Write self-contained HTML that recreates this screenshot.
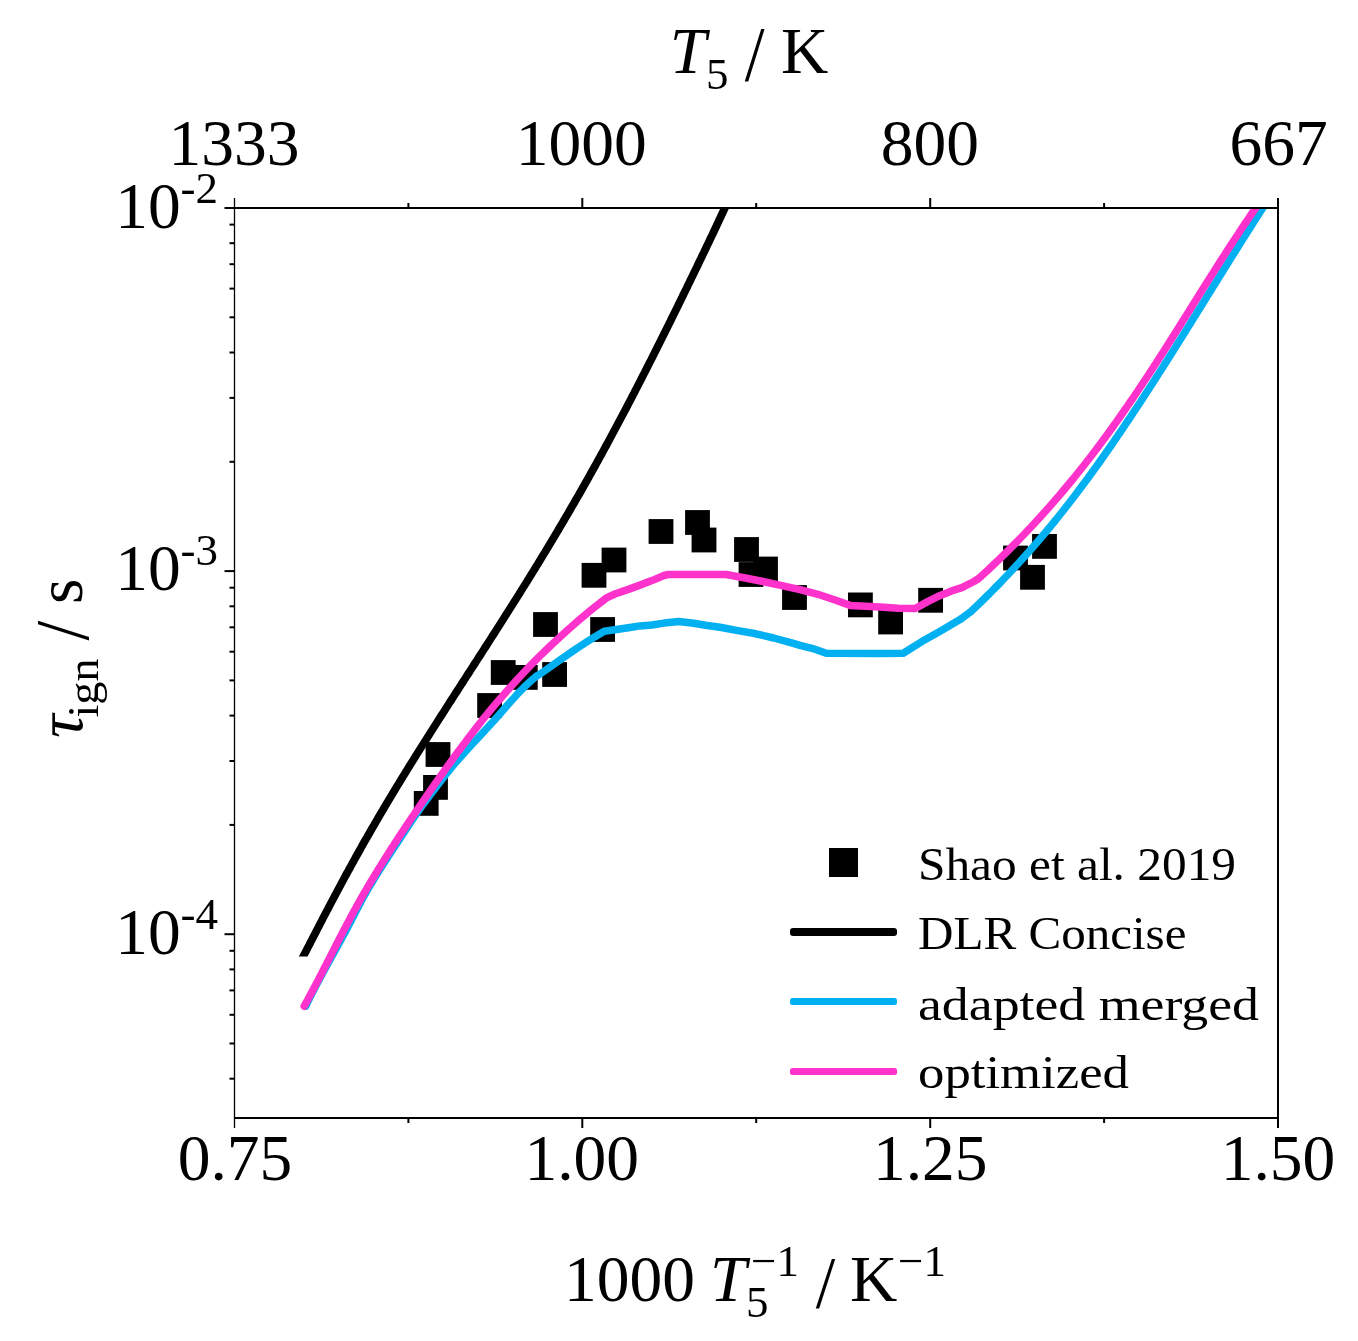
<!DOCTYPE html>
<html><head><meta charset="utf-8"><style>
html,body{margin:0;padding:0;background:#fff;}
svg{display:block;will-change:transform;}
text{font-family:"Liberation Serif",serif;fill:#000;}
</style></head><body>
<svg width="1358" height="1341" viewBox="0 0 1358 1341">
<defs><clipPath id="pc"><rect x="234.5" y="208.0" width="1043.5" height="910.0"/></clipPath></defs>
<g clip-path="url(#pc)">
<rect x="413.8" y="791.0" width="24.8" height="24.8" fill="#000"/>
<rect x="423.1" y="775.0" width="24.8" height="24.8" fill="#000"/>
<rect x="425.6" y="742.1" width="24.8" height="24.8" fill="#000"/>
<rect x="477.2" y="693.1" width="24.8" height="24.8" fill="#000"/>
<rect x="490.8" y="660.1" width="24.8" height="24.8" fill="#000"/>
<rect x="512.9" y="665.0" width="24.8" height="24.8" fill="#000"/>
<rect x="542.2" y="662.1" width="24.8" height="24.8" fill="#000"/>
<rect x="533.1" y="612.1" width="24.8" height="24.8" fill="#000"/>
<rect x="581.6" y="562.9" width="24.8" height="24.8" fill="#000"/>
<rect x="590.2" y="617.1" width="24.8" height="24.8" fill="#000"/>
<rect x="601.6" y="547.6" width="24.8" height="24.8" fill="#000"/>
<rect x="648.6" y="519.1" width="24.8" height="24.8" fill="#000"/>
<rect x="685.1" y="510.1" width="24.8" height="24.8" fill="#000"/>
<rect x="691.6" y="527.6" width="24.8" height="24.8" fill="#000"/>
<rect x="734.1" y="537.1" width="24.8" height="24.8" fill="#000"/>
<rect x="738.6" y="562.1" width="24.8" height="24.8" fill="#000"/>
<rect x="753.1" y="556.6" width="24.8" height="24.8" fill="#000"/>
<rect x="782.1" y="585.1" width="24.8" height="24.8" fill="#000"/>
<rect x="848.0" y="592.5" width="24.8" height="24.8" fill="#000"/>
<rect x="878.2" y="609.6" width="24.8" height="24.8" fill="#000"/>
<rect x="918.2" y="587.9" width="24.8" height="24.8" fill="#000"/>
<rect x="1003.1" y="545.6" width="24.8" height="24.8" fill="#000"/>
<rect x="1032.1" y="534.0" width="24.8" height="24.8" fill="#000"/>
<rect x="1020.1" y="564.9" width="24.8" height="24.8" fill="#000"/>
<clipPath id="bc"><rect x="200" y="200" width="600" height="756.6"/></clipPath>
<path clip-path="url(#bc)" d="M300.4,962.0 L304.5,954.0 L306.1,951.0 L307.6,948.0 L309.2,945.0 L310.7,942.0 L312.3,939.0 L313.8,936.0 L315.4,933.0 L316.9,930.0 L318.5,927.0 L320.0,924.0 L321.6,921.0 L323.1,918.0 L324.7,915.0 L326.3,912.0 L327.9,909.0 L329.4,906.0 L331.0,903.0 L332.6,900.0 L334.2,897.0 L335.8,894.0 L337.4,891.0 L339.0,888.0 L340.6,885.0 L342.2,882.0 L343.8,879.0 L345.4,876.0 L347.1,873.0 L348.7,870.0 L350.4,867.0 L352.0,864.0 L353.7,861.0 L355.3,858.0 L357.0,855.0 L358.7,852.0 L360.4,849.0 L362.0,846.0 L363.7,843.0 L365.4,840.0 L367.2,837.0 L368.9,834.0 L370.6,831.0 L372.3,828.0 L374.1,825.0 L375.8,822.0 L377.6,819.0 L379.3,816.0 L381.1,813.0 L382.9,810.0 L384.6,807.0 L386.4,804.0 L388.2,801.0 L390.0,798.0 L391.8,795.0 L393.6,792.0 L395.4,789.0 L397.2,786.0 L399.1,783.0 L400.9,780.0 L402.7,777.0 L404.6,774.0 L406.4,771.0 L408.3,768.0 L410.1,765.0 L412.0,762.0 L413.9,759.0 L415.7,756.0 L417.6,753.0 L419.5,750.0 L421.4,747.0 L423.3,744.0 L425.2,741.0 L427.1,738.0 L429.0,735.0 L430.9,732.0 L432.8,729.0 L434.7,726.0 L436.6,723.0 L438.5,720.0 L440.4,717.0 L442.4,714.0 L444.3,711.0 L446.2,708.0 L448.1,705.0 L450.0,702.0 L452.0,699.0 L453.9,696.0 L455.8,693.0 L457.8,690.0 L459.7,687.0 L461.6,684.0 L463.6,681.0 L465.5,678.0 L467.4,675.0 L469.4,672.0 L471.3,669.0 L473.2,666.0 L475.2,663.0 L477.1,660.0 L479.0,657.0 L481.0,654.0 L482.9,651.0 L484.8,648.0 L486.8,645.0 L488.7,642.0 L490.6,639.0 L492.5,636.0 L494.5,633.0 L496.4,630.0 L498.3,627.0 L500.2,624.0 L502.1,621.0 L504.0,618.0 L505.9,615.0 L507.8,612.0 L509.7,609.0 L511.6,606.0 L513.5,603.0 L515.4,600.0 L517.3,597.0 L519.2,594.0 L521.0,591.0 L522.9,588.0 L524.8,585.0 L526.7,582.0 L528.5,579.0 L530.4,576.0 L532.2,573.0 L534.1,570.0 L535.9,567.0 L537.8,564.0 L539.6,561.0 L541.4,558.0 L543.2,555.0 L545.1,552.0 L546.9,549.0 L548.7,546.0 L550.5,543.0 L552.3,540.0 L554.1,537.0 L555.9,534.0 L557.7,531.0 L559.4,528.0 L561.2,525.0 L563.0,522.0 L564.7,519.0 L566.5,516.0 L568.3,513.0 L570.0,510.0 L571.7,507.0 L573.5,504.0 L575.2,501.0 L576.9,498.0 L578.7,495.0 L580.4,492.0 L582.1,489.0 L583.8,486.0 L585.5,483.0 L587.2,480.0 L588.9,477.0 L590.5,474.0 L592.2,471.0 L593.9,468.0 L595.6,465.0 L597.2,462.0 L598.9,459.0 L600.5,456.0 L602.2,453.0 L603.8,450.0 L605.4,447.0 L607.1,444.0 L608.7,441.0 L610.3,438.0 L611.9,435.0 L613.5,432.0 L615.1,429.0 L616.7,426.0 L618.3,423.0 L619.9,420.0 L621.5,417.0 L623.1,414.0 L624.7,411.0 L626.3,408.0 L627.8,405.0 L629.4,402.0 L631.0,399.0 L632.5,396.0 L634.1,393.0 L635.6,390.0 L637.2,387.0 L638.7,384.0 L640.3,381.0 L641.8,378.0 L643.3,375.0 L644.9,372.0 L646.4,369.0 L647.9,366.0 L649.4,363.0 L651.0,360.0 L652.5,357.0 L654.0,354.0 L655.5,351.0 L657.0,348.0 L658.5,345.0 L660.0,342.0 L661.5,339.0 L663.0,336.0 L664.5,333.0 L666.0,330.0 L667.5,327.0 L669.0,324.0 L670.5,321.0 L671.9,318.0 L673.4,315.0 L674.9,312.0 L676.4,309.0 L677.9,306.0 L679.3,303.0 L680.8,300.0 L682.3,297.0 L683.7,294.0 L685.2,291.0 L686.7,288.0 L688.1,285.0 L689.6,282.0 L691.0,279.0 L692.5,276.0 L693.9,273.0 L695.4,270.0 L696.9,267.0 L698.3,264.0 L699.7,261.0 L701.2,258.0 L702.6,255.0 L704.1,252.0 L705.5,249.0 L706.9,246.0 L708.4,243.0 L709.8,240.0 L711.2,237.0 L712.7,234.0 L714.1,231.0 L715.5,228.0 L716.9,225.0 L718.3,222.0 L719.7,219.0 L721.1,216.0 L722.5,213.0 L723.9,210.0 L725.3,207.0 L726.7,204.0" fill="none" stroke="#000" stroke-width="7.8" stroke-linejoin="round"/>
<path d="M305.6,1006.2 L307.1,1003.2 L308.5,1000.2 L310.0,997.2 L311.5,994.2 L313.1,991.2 L314.6,988.2 L316.2,985.2 L317.8,982.2 L319.4,979.2 L321.0,976.2 L322.6,973.2 L324.2,970.2 L325.9,967.2 L327.5,964.2 L329.2,961.2 L330.8,958.2 L332.5,955.2 L334.1,952.2 L335.8,949.2 L337.4,946.2 L339.1,943.2 L340.7,940.2 L342.3,937.2 L344.0,934.2 L345.6,931.2 L347.2,928.2 L348.7,925.2 L350.3,922.2 L351.8,919.2 L353.4,916.2 L354.9,913.2 L356.5,910.2 L358.1,907.2 L359.6,904.2 L361.2,901.2 L362.8,898.2 L364.5,895.2 L366.2,892.2 L367.9,889.2 L369.6,886.2 L371.4,883.2 L373.2,880.2 L375.0,877.2 L376.9,874.2 L378.8,871.2 L380.7,868.2 L382.6,865.2 L384.5,862.2 L386.5,859.2 L388.4,856.2 L390.4,853.2 L392.3,850.2 L394.3,847.2 L396.3,844.2 L398.3,841.2 L400.2,838.2 L402.2,835.2 L404.2,832.2 L406.2,829.2 L408.1,826.2 L410.1,823.2 L412.1,820.2 L414.2,817.2 L416.2,814.2 L418.3,811.2 L420.4,808.2 L422.5,805.2 L424.7,802.2 L426.9,799.2 L429.1,796.2 L431.4,793.2 L433.7,790.2 L436.0,787.2 L438.3,784.2 L440.6,781.2 L442.9,778.2 L445.3,775.2 L447.7,772.2 L450.1,769.2 L452.6,766.2 L455.1,763.2 L457.7,760.2 L460.3,757.2 L463.0,754.2 L465.7,751.2 L468.4,748.2 L471.2,745.2 L474.0,742.2 L476.8,739.2 L479.6,736.2 L482.3,733.2 L485.1,730.2 L487.9,727.2 L490.6,724.2 L493.4,721.2 L496.0,718.2 L498.7,715.2 L501.3,712.2 L503.9,709.2 L506.5,706.2 L509.2,703.2 L511.8,700.2 L514.6,697.2 L517.3,694.2 L520.2,691.2 L523.2,688.2 L526.2,685.2 L529.4,682.2 L532.8,679.2 L536.2,676.2 L537.8,675.5 L547.3,669.0 L556.8,662.2 L566.3,655.6 L575.7,649.1 L585.2,642.9 L594.7,636.9 L604.2,631.3 L615.0,629.7 L621.6,628.7 L630.0,627.5 L640.0,625.9 L651.9,625.0 L663.9,623.1 L678.8,621.6 L693.7,623.2 L705.6,625.3 L720.0,627.3 L737.9,630.6 L755.8,633.8 L773.7,638.0 L791.6,642.8 L800.0,645.4 L811.9,648.3 L826.3,653.2 L880.0,653.4 L903.2,653.2 L921.8,641.6 L939.7,631.5 L960.0,619.6 L967.0,614.5 L971.0,611.5 L974.1,608.5 L977.3,605.5 L980.4,602.5 L983.5,599.5 L986.5,596.5 L989.6,593.5 L992.5,590.5 L995.5,587.5 L998.5,584.5 L1001.4,581.5 L1004.2,578.5 L1007.1,575.5 L1009.9,572.5 L1012.7,569.5 L1015.5,566.5 L1018.3,563.5 L1021.0,560.5 L1023.7,557.5 L1026.4,554.5 L1029.1,551.5 L1031.7,548.5 L1034.3,545.5 L1036.9,542.5 L1039.5,539.5 L1042.0,536.5 L1044.6,533.5 L1047.1,530.5 L1049.6,527.5 L1052.0,524.5 L1054.5,521.5 L1056.9,518.5 L1059.3,515.5 L1061.7,512.5 L1064.1,509.5 L1066.4,506.5 L1068.8,503.5 L1071.1,500.5 L1073.4,497.5 L1075.7,494.5 L1077.9,491.5 L1080.2,488.5 L1082.4,485.5 L1084.7,482.5 L1086.9,479.5 L1089.1,476.5 L1091.3,473.5 L1093.4,470.5 L1095.6,467.5 L1097.8,464.5 L1099.9,461.5 L1102.0,458.5 L1104.1,455.5 L1106.2,452.5 L1108.3,449.5 L1110.4,446.5 L1112.5,443.5 L1114.5,440.5 L1116.6,437.5 L1118.6,434.5 L1120.7,431.5 L1122.7,428.5 L1124.7,425.5 L1126.7,422.5 L1128.8,419.5 L1130.8,416.5 L1132.7,413.5 L1134.7,410.5 L1136.7,407.5 L1138.7,404.5 L1140.7,401.5 L1142.6,398.5 L1144.6,395.5 L1146.5,392.5 L1148.5,389.5 L1150.4,386.5 L1152.4,383.5 L1154.3,380.5 L1156.2,377.5 L1158.1,374.5 L1160.1,371.5 L1162.0,368.5 L1163.9,365.5 L1165.8,362.5 L1167.7,359.5 L1169.6,356.5 L1171.5,353.5 L1173.4,350.5 L1175.3,347.5 L1177.1,344.5 L1179.0,341.5 L1180.9,338.5 L1182.8,335.5 L1184.7,332.5 L1186.5,329.5 L1188.4,326.5 L1190.3,323.5 L1192.1,320.5 L1194.0,317.5 L1195.9,314.5 L1197.7,311.5 L1199.6,308.5 L1201.5,305.5 L1203.3,302.5 L1205.2,299.5 L1207.0,296.5 L1208.9,293.5 L1210.8,290.5 L1212.6,287.5 L1214.5,284.5 L1216.4,281.5 L1218.2,278.5 L1220.1,275.5 L1222.0,272.5 L1223.8,269.5 L1225.7,266.5 L1227.6,263.5 L1229.4,260.5 L1231.3,257.5 L1233.2,254.5 L1235.1,251.5 L1237.0,248.5 L1238.8,245.5 L1240.7,242.5 L1242.6,239.5 L1244.5,236.5 L1246.4,233.5 L1248.3,230.5 L1250.2,227.5 L1252.1,224.5 L1254.0,221.5 L1256.0,218.5 L1257.9,215.5 L1259.8,212.5 L1260.8,211.0 L1265.3,204.0" fill="none" stroke="#00b0f0" stroke-width="7.5" stroke-linejoin="round" stroke-linecap="round"/>
<path d="M304.2,1006.2 L305.9,1003.2 L307.5,1000.2 L309.1,997.2 L310.7,994.2 L312.4,991.2 L313.9,988.2 L315.5,985.2 L317.1,982.2 L318.7,979.2 L320.2,976.2 L321.8,973.2 L323.3,970.2 L324.8,967.2 L326.4,964.2 L327.9,961.2 L329.5,958.2 L331.0,955.2 L332.5,952.2 L334.1,949.2 L335.6,946.2 L337.1,943.2 L338.7,940.2 L340.2,937.2 L341.8,934.2 L343.3,931.2 L344.9,928.2 L346.5,925.2 L348.1,922.2 L349.7,919.2 L351.3,916.2 L352.9,913.2 L354.6,910.2 L356.2,907.2 L357.9,904.2 L359.6,901.2 L361.3,898.2 L363.0,895.2 L364.7,892.2 L366.5,889.2 L368.2,886.2 L370.0,883.2 L371.8,880.2 L373.6,877.2 L375.4,874.2 L377.3,871.2 L379.1,868.2 L381.0,865.2 L382.8,862.2 L384.7,859.2 L386.6,856.2 L388.5,853.2 L390.4,850.2 L392.4,847.2 L394.3,844.2 L396.3,841.2 L398.2,838.2 L400.2,835.2 L402.2,832.2 L404.2,829.2 L406.2,826.2 L408.2,823.2 L410.2,820.2 L412.2,817.2 L414.3,814.2 L416.3,811.2 L418.3,808.2 L420.4,805.2 L422.4,802.2 L424.5,799.2 L426.6,796.2 L428.7,793.2 L430.7,790.2 L432.8,787.2 L434.9,784.2 L437.0,781.2 L439.1,778.2 L441.2,775.2 L443.4,772.2 L445.5,769.2 L447.6,766.2 L449.8,763.2 L452.0,760.2 L454.1,757.2 L456.3,754.2 L458.5,751.2 L460.8,748.2 L463.0,745.2 L465.3,742.2 L467.5,739.2 L469.8,736.2 L472.1,733.2 L474.4,730.2 L476.8,727.2 L479.2,724.2 L481.5,721.2 L483.9,718.2 L486.4,715.2 L488.8,712.2 L491.3,709.2 L493.8,706.2 L496.3,703.2 L498.9,700.2 L501.5,697.2 L504.1,694.2 L506.7,691.2 L509.4,688.2 L512.1,685.2 L514.8,682.2 L517.5,679.2 L520.3,676.2 L523.1,673.2 L526.0,670.2 L528.9,667.2 L531.8,664.2 L534.7,661.2 L537.7,658.2 L540.7,655.2 L543.8,652.2 L546.9,649.2 L550.0,646.2 L553.2,643.2 L556.4,640.2 L559.7,637.2 L563.0,634.2 L566.3,631.2 L569.7,628.2 L573.1,625.2 L576.6,622.2 L580.1,619.2 L583.7,616.2 L587.3,613.2 L590.9,610.2 L594.6,607.2 L598.4,604.2 L602.2,601.2 L606.0,598.2 L606.7,597.7 L615.6,593.8 L627.6,589.6 L640.0,585.1 L651.9,580.6 L663.9,575.5 L668.3,574.5 L726.0,574.5 L743.9,577.8 L761.8,581.3 L779.7,585.2 L800.0,589.6 L817.9,594.3 L835.8,600.3 L850.1,605.4 L865.6,606.3 L880.0,607.0 L897.9,608.2 L915.2,608.5 L927.7,601.6 L939.7,595.7 L951.6,590.9 L961.9,587.7 L973.9,581.5 L978.7,578.5 L982.0,575.5 L985.3,572.5 L988.5,569.5 L991.7,566.5 L994.8,563.5 L998.0,560.5 L1001.1,557.5 L1004.2,554.5 L1007.2,551.5 L1010.2,548.5 L1013.2,545.5 L1016.2,542.5 L1019.1,539.5 L1022.0,536.5 L1024.9,533.5 L1027.7,530.5 L1030.6,527.5 L1033.4,524.5 L1036.1,521.5 L1038.9,518.5 L1041.6,515.5 L1044.3,512.5 L1047.0,509.5 L1049.7,506.5 L1052.3,503.5 L1054.9,500.5 L1057.5,497.5 L1060.1,494.5 L1062.6,491.5 L1065.1,488.5 L1067.6,485.5 L1070.1,482.5 L1072.6,479.5 L1075.0,476.5 L1077.4,473.5 L1079.8,470.5 L1082.2,467.5 L1084.6,464.5 L1086.9,461.5 L1089.3,458.5 L1091.6,455.5 L1093.9,452.5 L1096.2,449.5 L1098.4,446.5 L1100.7,443.5 L1102.9,440.5 L1105.1,437.5 L1107.3,434.5 L1109.5,431.5 L1111.7,428.5 L1113.8,425.5 L1116.0,422.5 L1118.1,419.5 L1120.2,416.5 L1122.3,413.5 L1124.4,410.5 L1126.5,407.5 L1128.5,404.5 L1130.6,401.5 L1132.7,398.5 L1134.7,395.5 L1136.7,392.5 L1138.7,389.5 L1140.7,386.5 L1142.7,383.5 L1144.7,380.5 L1146.7,377.5 L1148.7,374.5 L1150.6,371.5 L1152.6,368.5 L1154.5,365.5 L1156.5,362.5 L1158.4,359.5 L1160.3,356.5 L1162.3,353.5 L1164.2,350.5 L1166.1,347.5 L1168.0,344.5 L1169.9,341.5 L1171.8,338.5 L1173.7,335.5 L1175.6,332.5 L1177.5,329.5 L1179.4,326.5 L1181.2,323.5 L1183.1,320.5 L1185.0,317.5 L1186.9,314.5 L1188.8,311.5 L1190.6,308.5 L1192.5,305.5 L1194.4,302.5 L1196.3,299.5 L1198.2,296.5 L1200.0,293.5 L1201.9,290.5 L1203.8,287.5 L1205.7,284.5 L1207.6,281.5 L1209.5,278.5 L1211.4,275.5 L1213.3,272.5 L1215.2,269.5 L1217.1,266.5 L1219.0,263.5 L1220.9,260.5 L1222.8,257.5 L1224.8,254.5 L1226.7,251.5 L1228.6,248.5 L1230.6,245.5 L1232.5,242.5 L1234.5,239.5 L1236.5,236.5 L1238.5,233.5 L1240.4,230.5 L1242.4,227.5 L1244.4,224.5 L1246.5,221.5 L1248.5,218.5 L1250.5,215.5 L1252.6,212.5 L1253.6,211.0 L1258.4,204.0" fill="none" stroke="#ff33cc" stroke-width="7.5" stroke-linejoin="round" stroke-linecap="round"/>
</g>
<line x1="224.5" y1="208.0" x2="1278.0" y2="208.0" stroke="#000" stroke-width="2"/>
<line x1="234.5" y1="1118.0" x2="1278.0" y2="1118.0" stroke="#000" stroke-width="2"/>
<line x1="234.5" y1="198.0" x2="234.5" y2="1128.0" stroke="#000" stroke-width="1.3"/>
<line x1="1278.0" y1="198.0" x2="1278.0" y2="1128.0" stroke="#000" stroke-width="2"/>
<line x1="582.3" y1="198.0" x2="582.3" y2="208.0" stroke="#000" stroke-width="2"/>
<line x1="582.3" y1="1118.0" x2="582.3" y2="1128.0" stroke="#000" stroke-width="2"/>
<line x1="930.2" y1="198.0" x2="930.2" y2="208.0" stroke="#000" stroke-width="2"/>
<line x1="930.2" y1="1118.0" x2="930.2" y2="1128.0" stroke="#000" stroke-width="2"/>
<line x1="408.4" y1="203.0" x2="408.4" y2="208.0" stroke="#000" stroke-width="2"/>
<line x1="408.4" y1="1118.0" x2="408.4" y2="1123.0" stroke="#000" stroke-width="2"/>
<line x1="756.2" y1="203.0" x2="756.2" y2="208.0" stroke="#000" stroke-width="2"/>
<line x1="756.2" y1="1118.0" x2="756.2" y2="1123.0" stroke="#000" stroke-width="2"/>
<line x1="1104.1" y1="203.0" x2="1104.1" y2="208.0" stroke="#000" stroke-width="2"/>
<line x1="1104.1" y1="1118.0" x2="1104.1" y2="1123.0" stroke="#000" stroke-width="2"/>
<line x1="224.5" y1="571.1" x2="234.5" y2="571.1" stroke="#000" stroke-width="2"/>
<line x1="224.5" y1="934.2" x2="234.5" y2="934.2" stroke="#000" stroke-width="2"/>
<line x1="229.5" y1="461.8" x2="234.5" y2="461.8" stroke="#000" stroke-width="2"/>
<line x1="229.5" y1="397.9" x2="234.5" y2="397.9" stroke="#000" stroke-width="2"/>
<line x1="229.5" y1="352.5" x2="234.5" y2="352.5" stroke="#000" stroke-width="2"/>
<line x1="229.5" y1="317.3" x2="234.5" y2="317.3" stroke="#000" stroke-width="2"/>
<line x1="229.5" y1="288.6" x2="234.5" y2="288.6" stroke="#000" stroke-width="2"/>
<line x1="229.5" y1="264.2" x2="234.5" y2="264.2" stroke="#000" stroke-width="2"/>
<line x1="229.5" y1="243.2" x2="234.5" y2="243.2" stroke="#000" stroke-width="2"/>
<line x1="229.5" y1="224.6" x2="234.5" y2="224.6" stroke="#000" stroke-width="2"/>
<line x1="229.5" y1="824.9" x2="234.5" y2="824.9" stroke="#000" stroke-width="2"/>
<line x1="229.5" y1="761.0" x2="234.5" y2="761.0" stroke="#000" stroke-width="2"/>
<line x1="229.5" y1="715.6" x2="234.5" y2="715.6" stroke="#000" stroke-width="2"/>
<line x1="229.5" y1="680.4" x2="234.5" y2="680.4" stroke="#000" stroke-width="2"/>
<line x1="229.5" y1="651.7" x2="234.5" y2="651.7" stroke="#000" stroke-width="2"/>
<line x1="229.5" y1="627.3" x2="234.5" y2="627.3" stroke="#000" stroke-width="2"/>
<line x1="229.5" y1="606.3" x2="234.5" y2="606.3" stroke="#000" stroke-width="2"/>
<line x1="229.5" y1="587.7" x2="234.5" y2="587.7" stroke="#000" stroke-width="2"/>
<line x1="229.5" y1="1078.7" x2="234.5" y2="1078.7" stroke="#000" stroke-width="2"/>
<line x1="229.5" y1="1043.5" x2="234.5" y2="1043.5" stroke="#000" stroke-width="2"/>
<line x1="229.5" y1="1014.8" x2="234.5" y2="1014.8" stroke="#000" stroke-width="2"/>
<line x1="229.5" y1="990.4" x2="234.5" y2="990.4" stroke="#000" stroke-width="2"/>
<line x1="229.5" y1="969.4" x2="234.5" y2="969.4" stroke="#000" stroke-width="2"/>
<line x1="229.5" y1="950.8" x2="234.5" y2="950.8" stroke="#000" stroke-width="2"/>
<text x="233.9" y="165.0" font-size="65.5" text-anchor="middle" >1333</text>
<text x="581.3" y="165.0" font-size="65.5" text-anchor="middle" >1000</text>
<text x="929.8" y="165.0" font-size="65.5" text-anchor="middle" >800</text>
<text x="1278.5" y="165.0" font-size="65.5" text-anchor="middle" >667</text>
<text x="235.0" y="1179.6" font-size="65.5" text-anchor="middle" >0.75</text>
<text x="581.8" y="1179.6" font-size="65.5" text-anchor="middle" >1.00</text>
<text x="930.2" y="1179.6" font-size="65.5" text-anchor="middle" >1.25</text>
<text x="1278.0" y="1179.6" font-size="65.5" text-anchor="middle" >1.50</text>
<text x="115.2" y="228" font-size="65.5">10</text>
<text x="180.6" y="202.5" font-size="45">-2</text>
<text x="115.2" y="590.2" font-size="65.5">10</text>
<text x="180.6" y="564.7" font-size="45">-3</text>
<text x="115.2" y="954.3" font-size="65.5">10</text>
<text x="180.6" y="928.8" font-size="45">-4</text>
<text x="669.7" y="72.9" font-size="65.5" font-style="italic">T</text>
<text x="706" y="89" font-size="45">5</text>
<text transform="translate(744.7,80.6) scale(1.09,1.185)" x="0" y="-0.6" font-size="65.5">/</text>
<text x="781" y="72.9" font-size="65.5">K</text>
<text x="564" y="1301" font-size="65.5">1000</text>
<text x="710" y="1301" font-size="65.5" font-style="italic">T</text>
<text x="746" y="1317" font-size="45">5</text>
<text x="751" y="1275.5" font-size="45">−1</text>
<text transform="translate(815.7,1308.5) scale(1.07,1.14)" x="0" y="-0.6" font-size="65.5">/</text>
<text x="850" y="1301" font-size="65.5">K</text>
<text x="898" y="1275.5" font-size="45">−1</text>
<g transform="translate(82,0) rotate(-90)"><text x="-738" y="0" font-size="65.5" font-style="italic">τ</text><text x="-717.5" y="15.7" font-size="45" textLength="59" lengthAdjust="spacingAndGlyphs">ign</text><text transform="translate(-640.5,6.2) scale(1.08,1.165)" x="0" y="-0.6" font-size="65.5">/</text><text x="-604" y="0" font-size="65.5">s</text></g>
<rect x="829" y="848" width="29" height="29" fill="#000"/>
<rect x="790" y="928.1" width="107" height="7.8" rx="3" fill="#000"/>
<rect x="790" y="998.1" width="107" height="6.8" rx="2.5" fill="#00b0f0"/>
<rect x="790" y="1068.1" width="107" height="6.8" rx="2.5" fill="#ff33cc"/>
<text x="918" y="880.2" font-size="47" textLength="318" lengthAdjust="spacingAndGlyphs">Shao et al. 2019</text>
<text x="918" y="949.4" font-size="47" textLength="268.5" lengthAdjust="spacingAndGlyphs">DLR Concise</text>
<text x="918" y="1019.5" font-size="47" textLength="341" lengthAdjust="spacingAndGlyphs">adapted merged</text>
<text x="918" y="1088" font-size="47" textLength="211" lengthAdjust="spacingAndGlyphs">optimized</text>
</svg></body></html>
